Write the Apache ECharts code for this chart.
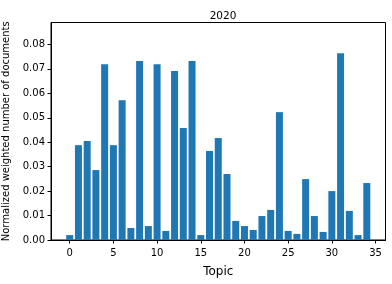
<!DOCTYPE html>
<html>
<head>
<meta charset="utf-8">
<script src="https://cdn.jsdelivr.net/npm/echarts@6/dist/echarts.min.js"></script>
<style>html,body{margin:0;padding:0;background:#fff}#c{width:392px;height:284px}</style>
</head>
<body>
<div id="c"></div>
<script>
const topics = [0,1,2,3,4,5,6,7,8,9,10,11,12,13,14,15,16,17,18,19,20,21,22,23,24,25,26,27,28,29,30,31,32,33,34];
const values = [0.0020,0.0388,0.0405,0.0286,0.0719,0.0388,0.0572,0.0049,0.0732,0.0057,0.0719,0.0037,0.0691,0.0458,0.0732,0.0020,0.0364,0.0417,0.0270,0.0078,0.0057,0.0041,0.0098,0.0123,0.0523,0.0037,0.0025,0.0249,0.0098,0.0033,0.0200,0.0764,0.0119,0.0020,0.0233];
const xTicks = [0,5,10,15,20,25,30,35];
const yTicks = [0,0.01,0.02,0.03,0.04,0.05,0.06,0.07,0.08];
const title = '2020';
const xName = 'Topic';
const yName = 'Normalized weighted number of documents';

const chart = echarts.init(document.getElementById('c'), null, {renderer:'canvas'});
const font = 'DejaVu Sans';
chart.setOption({
  animation:false,
  title:{text:title,left:218,top:6,textAlign:'center',textStyle:{fontFamily:font,fontSize:10.5,fontWeight:'normal',color:'#000'}},
  grid:{left:51,right:6.5,top:22.5,bottom:44,show:true,borderColor:'#000',borderWidth:1,backgroundColor:'transparent',containLabel:false,outerBoundsMode:'none'},
  xAxis:{type:'value',min:-2.14,max:36.14,
    name:xName,nameLocation:'middle',nameGap:26,nameTextStyle:{fontFamily:font,fontSize:12,color:'#000'},
    axisLine:{show:true,onZero:false,lineStyle:{color:'#000',width:1}},
    axisTick:{show:true,length:3.5,inside:false,customValues:xTicks,lineStyle:{color:'#000'}},
    axisLabel:{customValues:xTicks,fontFamily:font,fontSize:10,color:'#000',margin:8},
    splitLine:{show:false}},
  yAxis:{type:'value',min:0,max:0.08897,
    name:yName,nameLocation:'middle',nameGap:36,nameRotate:90,nameTextStyle:{fontFamily:font,fontSize:10,color:'#000'},
    axisLine:{show:true,onZero:false,lineStyle:{color:'#000',width:1}},
    axisTick:{show:true,length:3.5,inside:false,customValues:yTicks,lineStyle:{color:'#000'}},
    axisLabel:{customValues:yTicks,fontFamily:font,fontSize:10,color:'#000',margin:6,formatter:v=>v.toFixed(2)},
    splitLine:{show:false}},
  series:[{type:'bar',data:topics.map((t,i)=>[t,values[i]]),barWidth:7,itemStyle:{color:'#1f77b4'}}]
});
</script>
</body>
</html>
